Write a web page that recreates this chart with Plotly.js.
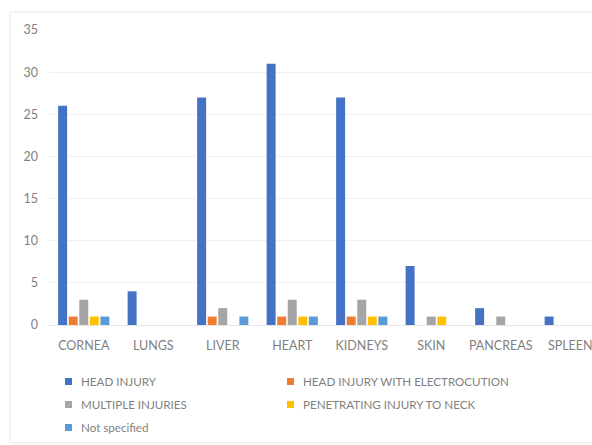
<!DOCTYPE html>
<html><head><meta charset="utf-8">
<script src="https://cdn.plot.ly/plotly-3.0.1.min.js"></script>
<style>html,body{margin:0;padding:0;overflow:hidden;background:#fff;width:592px;height:445px}</style>
</head><body><div id="chart"></div>
<script>
const organs = ["CORNEA","LUNGS","LIVER","HEART","KIDNEYS","SKIN","PANCREAS","SPLEEN"];
const headInjury = [26,4,27,31,27,7,2,1];
const headElectro = [1,0,1,1,1,0,0,0];
const multiple = [3,0,2,3,3,1,1,0];
const neck = [1,0,0,1,1,1,0,0];
const notSpecified = [1,0,1,1,1,0,0,0];
const seriesNames = ["HEAD INJURY","HEAD INJURY WITH ELECTROCUTION","MULTIPLE INJURIES","PENETRATING INJURY TO NECK","Not specified"];
const seriesColors = ["#4472C4","#ED7D31","#A5A5A5","#FFC000","#5B9BD5"];
const yTicks = [0,5,10,15,20,25,30,35];

// plot-area geometry in pixels (for converting legend placement to paper coords)
const L = 49, T = 30, W = 556, H = 295;
const px = x => (x - L) / W;
const py = y => (T + H - y) / H;

const seriesVals = [headInjury, headElectro, multiple, neck, notSpecified];
const traces = seriesVals.map((v,i)=>({type:'bar', x:organs, y:v, name:seriesNames[i],
  marker:{color:seriesColors[i]}, showlegend:false}));

// custom legend (two columns) built from the series names and colours
const legCols = [65, 287], legRows = [381.5, 404.5, 427.5];
const shapes = [{type:'rect', xref:'paper', yref:'paper', x0:px(10), x1:px(640), y0:py(443), y1:py(12),
  line:{color:'#ececec', width:1}, fillcolor:'rgba(0,0,0,0)', layer:'below'}];
const annotations = [];
seriesNames.forEach((n,i)=>{
  const cx = legCols[i%2], cy = legRows[Math.floor(i/2)];
  shapes.push({type:'rect', xref:'paper', yref:'paper', x0:px(cx), x1:px(cx+7), y0:py(cy+3.5), y1:py(cy-3.5),
    line:{width:0}, fillcolor:seriesColors[i]});
  annotations.push({xref:'paper', yref:'paper', x:px(cx+14), y:py(cy), xanchor:'left', yanchor:'middle',
    text:n, showarrow:false, font:{size:11.6, color:'#7f7f7f'}});
});

const layout = {
  width:620, height:445,
  margin:{l:L, r:620-L-W, t:T, b:445-T-H, autoexpand:false},
  paper_bgcolor:'#fff', plot_bgcolor:'#fff',
  font:{family:'Lato, "Open Sans", sans-serif', color:'#7f7f7f', size:12},
  barmode:'group', bargap:0.24, bargroupgap:0.15, showlegend:false,
  xaxis:{showgrid:false, zeroline:false, showline:false, ticks:'', ticklabelstandoff:11, tickfont:{size:12.5, color:'#7f7f7f'}},
  yaxis:{range:[0,35], tickvals:yTicks, showgrid:true, gridcolor:'#f0f0f0', gridwidth:1, zeroline:true, zerolinecolor:'#e6e6e6', showline:false, ticks:'', ticklabelstandoff:10, tickfont:{size:12.5, color:'#7f7f7f'}},
  shapes, annotations
};
Plotly.newPlot('chart', traces, layout, {displayModeBar:false, staticPlot:true});
</script></body></html>
